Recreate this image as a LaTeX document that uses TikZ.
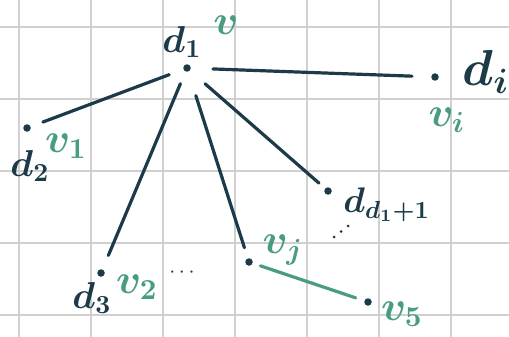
\documentclass[tikz,border=0pt]{standalone}
\definecolor{ink}{RGB}{28,58,72}
\definecolor{gr}{RGB}{72,156,130}
\definecolor{gridc}{RGB}{208,208,208}
\begin{document}
\begin{tikzpicture}[x=1pt,y=-1pt,
  gridline/.style={gridc,line width=1.6pt},
  edge/.style={ink,line width=3.2pt,line cap=round},
  gedge/.style={gr,line width=3.2pt,line cap=round},
  dot/.style={circle,fill=ink,inner sep=0pt,minimum size=7.5pt},
  smalldot/.style={ink},
  dl/.style={ink,inner sep=0pt,font=\Large\boldmath,scale=2.6,transform shape},
  vl/.style={gr,inner sep=0pt,font=\Large\boldmath,scale=2.9,transform shape}]
\useasboundingbox (0,0) rectangle (509,337);
\fill[white] (0,0) rectangle (509,337);
% grid
\foreach \x in {19,91,163,235,307,379,451} \draw[gridline] (\x,0) -- (\x,337);
\foreach \y in {27,99,171,243,315} \draw[gridline] (0,\y) -- (509,\y);
% dots
\node[dot] (d1) at (187,68) {};
\node[dot] (di) at (435,77) {};
\node[dot] (d2) at (27,128) {};
\node[dot] (d3) at (101,273) {};
\node[dot] (dd) at (328,191) {};
\node[dot] (vj) at (249,262) {};
\node[dot] (v5) at (368,302) {};
% edges
\draw[edge,shorten <=26pt,shorten >=23pt] (d1.center) -- (di.center);
\draw[edge,shorten <=19pt,shorten >=17pt] (d1.center) -- (d2.center);
\draw[edge,shorten <=17pt,shorten >=19pt] (d1.center) -- (d3.center);
\draw[edge,shorten <=29pt,shorten >=15pt] (d1.center) -- (vj.center);
\draw[edge,shorten <=24pt,shorten >=12pt] (d1.center) -- (dd.center);
\draw[gedge,shorten <=12pt,shorten >=13pt] (vj.center) -- (v5.center);
% labels
\node[dl] (ld1) at (182,42) {$d_1$};
\node[vl] (lv) at (226,25) {$v$};
\node[dl,scale=1.35,anchor=west] (ldi) at (462,72) {$d_i$};
\node[vl] (lvi) at (447,120) {$v_i$};
\node[dl] (ld2) at (30,166) {$d_2$};
\node[vl] (lv1) at (66,146) {$v_1$};
\node[dl] (ld3) at (92,298) {$d_3$};
\node[vl] (lv2) at (137,287) {$v_2$};
\node[ink,font=\Large,scale=1.5,transform shape] (hd) at (182,273) {$\cdots$};
\node[dl,scale=0.95,anchor=west] (ldd) at (343,205) {$d_{d_1+1}$};
\fill[smalldot] (334,237) circle (1.5pt) (341,231.5) circle (1.5pt) (348,226) circle (1.5pt);
\node[vl] (lvj) at (283,250) {$v_j$};
\node[vl] (lv5) at (402,314) {$v_5$};
\end{tikzpicture}
\end{document}
